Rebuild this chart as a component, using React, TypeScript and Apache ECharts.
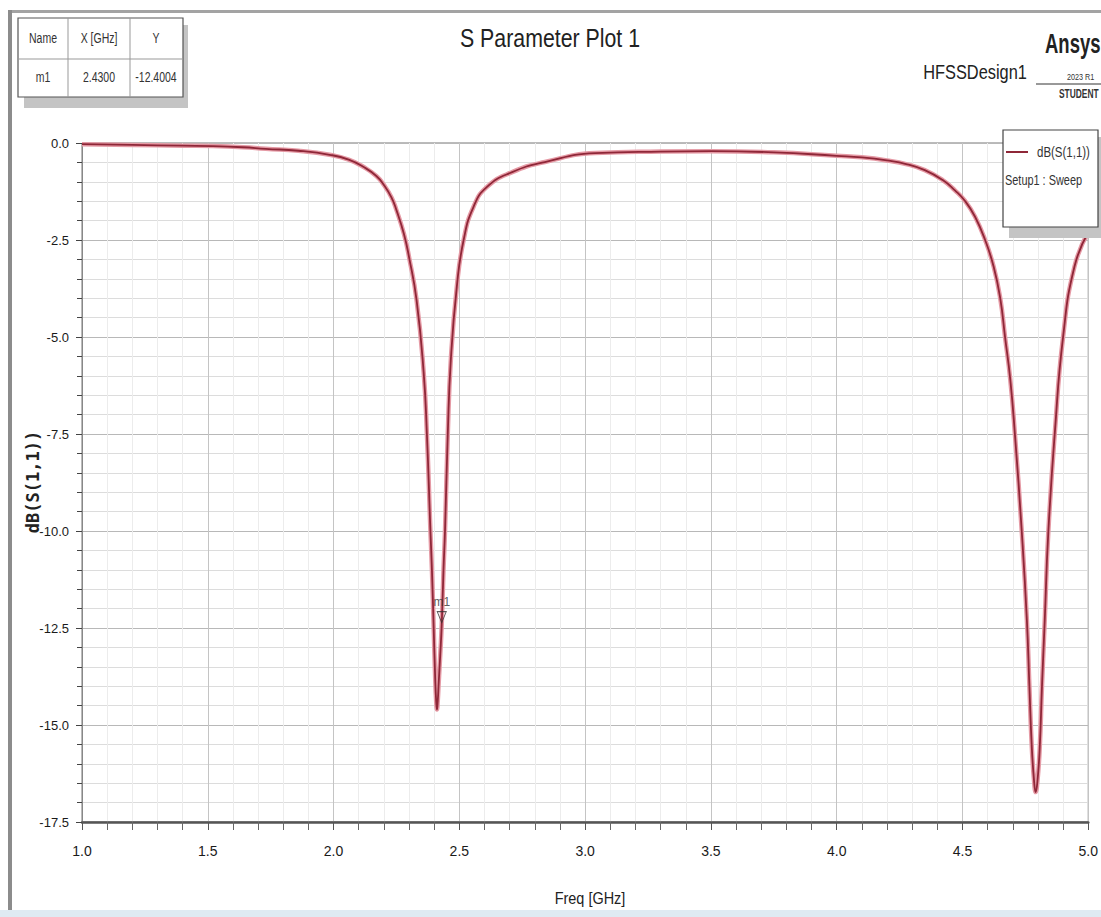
import React, { useEffect, useRef } from "react";
import * as echarts from "echarts";

// ---- data ----
const freqGHz = [
  1.0, 1.2, 1.4, 1.52, 1.64, 1.73, 1.86, 1.99, 2.06, 2.12, 2.17, 2.2, 2.23, 2.25,
  2.28, 2.3, 2.33, 2.358, 2.371, 2.385, 2.391, 2.398, 2.404, 2.408, 2.411, 2.414,
  2.418, 2.424, 2.43, 2.437, 2.443, 2.454, 2.466, 2.49, 2.517, 2.556, 2.61, 2.71,
  2.84, 3.04, 3.3, 3.5, 3.75, 4.0, 4.1, 4.2, 4.28, 4.35, 4.42, 4.47, 4.511, 4.55,
  4.59, 4.624, 4.65, 4.669, 4.69, 4.708, 4.736, 4.756, 4.766, 4.775, 4.784, 4.791,
  4.798, 4.807, 4.816, 4.827, 4.841, 4.867, 4.9, 4.945, 5.0,
];
const s11dB = [
  -0.03, -0.05, -0.07, -0.08, -0.11, -0.15, -0.2, -0.31, -0.43, -0.62, -0.85, -1.08,
  -1.4, -1.73, -2.35, -2.94, -4.05, -5.9, -7.5, -10.0, -11.0, -12.5, -13.8, -14.4,
  -14.6, -14.4, -13.9, -13.2, -12.4, -11.0, -10.0, -7.5, -5.6, -3.7, -2.5, -1.65,
  -1.13, -0.75, -0.49, -0.26, -0.22, -0.21, -0.24, -0.33, -0.37, -0.45, -0.55, -0.7,
  -0.95, -1.22, -1.5, -1.9, -2.5, -3.19, -4.0, -4.99, -6.1, -7.47, -10.05, -12.3,
  -14.0, -15.5, -16.4, -16.73, -16.45, -15.6, -14.0, -12.3, -10.05, -7.47, -4.99,
  -3.19, -2.3,
];
const markerName = "m1";
const markerFreq = 2.43;
const markerValue = -12.4004;
const tableHeader = ["Name", "X [GHz]", "Y"];
const tableRow = [markerName, markerFreq.toFixed(4), markerValue.toFixed(4)];
const titleText = "S Parameter Plot 1";
const designText = "HFSSDesign1";
const traceName = "dB(S(1,1))";
const setupName = "Setup1 : Sweep";
const xAxisName = "Freq [GHz]";
const yAxisName = "dB(S(1,1))";

const SANS = '"Liberation Sans", Arial, sans-serif';

function narrowText(
  text: string,
  x: number,
  y: number,
  size: number,
  sx: number,
  opts: any = {}
) {
  return {
    type: "text",
    x,
    y,
    scaleX: sx,
    z: opts.z ?? 12,
    style: {
      text,
      fill: opts.fill ?? "#333",
      fontSize: size,
      fontWeight: opts.bold ? "bold" : "normal",
      fontFamily: SANS,
      align: opts.align ?? "center",
      verticalAlign: "middle",
    },
  };
}

export default function App() {
  const ref = useRef<HTMLDivElement>(null);
  useEffect(() => {
    if (!ref.current) return;
    const chart = echarts.init(ref.current, undefined, { renderer: "svg" });
    const pts = freqGHz.map((f, i) => [f, s11dB[i]]);
    const colX = [43, 99, 156];
    const option: any = {
      animation: false,
      backgroundColor: "#ffffff",
      grid: {
        left: 82,
        right: 4,
        top: 143,
        bottom: 95,
        show: true,
        borderColor: "#777",
        borderWidth: 1,
        containLabel: false,
      },
      xAxis: {
        type: "value",
        min: 1,
        max: 5,
        interval: 0.5,
        axisLine: { show: true, onZero: false, lineStyle: { color: "#555", width: 2.5 } },
        axisTick: { show: true, length: 8, lineStyle: { color: "#555" } },
        minorTick: { show: true, splitNumber: 5, length: 8, lineStyle: { color: "#666" } },
        axisLabel: {
          margin: 22,
          fontSize: 14,
          fontFamily: SANS,
          color: "#1a1a1a",
          formatter: (v: number) => v.toFixed(1),
        },
        splitLine: { show: true, lineStyle: { color: "#c4c4c4", width: 1 } },
        minorSplitLine: { show: true, lineStyle: { color: "#ececec", width: 1 } },
      },
      yAxis: {
        type: "value",
        min: -17.5,
        max: 0,
        interval: 2.5,
        axisLine: { show: true, onZero: false, lineStyle: { color: "#888", width: 1 } },
        axisTick: { show: true, length: 6, lineStyle: { color: "#444" } },
        minorTick: { show: true, splitNumber: 5, length: 5, lineStyle: { color: "#444" } },
        axisLabel: {
          margin: 13,
          fontSize: 13,
          fontFamily: SANS,
          color: "#1a1a1a",
          formatter: (v: number) => v.toFixed(1),
        },
        splitLine: { show: true, lineStyle: { color: "#b8b8b8", width: 1 } },
        minorSplitLine: { show: true, lineStyle: { color: "#dcdcdc", width: 1 } },
      },
      series: [
        {
          name: traceName + " halo",
          type: "line",
          data: pts,
          showSymbol: false,
          smooth: 0.5,
          silent: true,
          lineStyle: { color: "#e59aa5", width: 4.5 },
          z: 2,
        },
        {
          name: traceName,
          type: "line",
          data: pts,
          showSymbol: false,
          smooth: 0.5,
          lineStyle: { color: "#8f2738", width: 1.8 },
          z: 3,
        },
        {
          name: markerName,
          type: "scatter",
          data: [[markerFreq, markerValue]],
          symbol: "triangle",
          symbolRotate: 180,
          symbolSize: [9, 11],
          symbolOffset: [0, -7],
          itemStyle: { color: "rgba(255,255,255,0)", borderColor: "#333", borderWidth: 1 },
          label: {
            show: true,
            formatter: markerName,
            position: "top",
            distance: 3,
            fontSize: 12,
            fontFamily: SANS,
            color: "#333",
          },
          z: 5,
        },
      ],
      graphic: [
        // outer frame
        { type: "rect", shape: { x: 8, y: 10, width: 1093, height: 3 }, style: { fill: "#a3a3a3" }, z: 10 },
        { type: "rect", shape: { x: 8, y: 10, width: 4, height: 907 }, style: { fill: "#8c8c8c" }, z: 10 },
        { type: "rect", shape: { x: 0, y: 910, width: 1101, height: 7 }, style: { fill: "#dfeaf2" }, z: 10 },
        // marker table
        { type: "rect", shape: { x: 24, y: 25, width: 164, height: 83 }, style: { fill: "#c4c4c4" }, z: 10 },
        { type: "rect", shape: { x: 18, y: 18, width: 165, height: 79 }, style: { fill: "#fff", stroke: "#555", lineWidth: 1.2 }, z: 11 },
        { type: "line", shape: { x1: 68, y1: 18, x2: 68, y2: 97 }, style: { stroke: "#999", lineWidth: 1 }, z: 12 },
        { type: "line", shape: { x1: 130, y1: 18, x2: 130, y2: 97 }, style: { stroke: "#999", lineWidth: 1 }, z: 12 },
        { type: "line", shape: { x1: 18, y1: 59, x2: 183, y2: 59 }, style: { stroke: "#999", lineWidth: 1 }, z: 12 },
        ...tableHeader.map((t, i) => narrowText(t, colX[i], 38, 14, 0.75)),
        ...tableRow.map((t, i) => narrowText(t, colX[i], 77, 14, 0.75)),
        // title
        narrowText(titleText, 550, 38, 26, 0.82, { fill: "#222" }),
        // design name + logo
        narrowText(designText, 975, 72, 21, 0.78, { fill: "#222" }),
        narrowText("Ansys", 1045, 44, 28, 0.66, { fill: "#222", bold: true, align: "left" }),
        narrowText("2023 R1", 1067, 77, 9, 0.8, { align: "left" }),
        { type: "line", shape: { x1: 1036, y1: 84, x2: 1101, y2: 84 }, style: { stroke: "#333", lineWidth: 1 }, z: 12 },
        narrowText("STUDENT", 1059, 94, 12, 0.7, { bold: true, align: "left" }),
        // legend box
        { type: "rect", shape: { x: 1009, y: 137, width: 92, height: 101 }, style: { fill: "#c4c4c4" }, z: 20 },
        { type: "rect", shape: { x: 1003, y: 130, width: 95, height: 97 }, style: { fill: "#fff", stroke: "#444", lineWidth: 1.2 }, z: 21 },
        { type: "line", shape: { x1: 1006, y1: 152, x2: 1028, y2: 152 }, style: { stroke: "#8f2738", lineWidth: 2 }, z: 22 },
        narrowText(traceName, 1037, 152, 14, 0.82, { align: "left", z: 22 }),
        narrowText(setupName, 1005, 181, 14, 0.78, { align: "left", z: 22 }),
        // axis names
        {
          type: "text",
          x: 33,
          y: 482,
          rotation: Math.PI / 2,
          z: 12,
          style: {
            text: yAxisName,
            fill: "#222",
            fontSize: 17,
            fontWeight: "bold",
            fontFamily: '"DejaVu Sans Mono", "Liberation Mono", monospace',
            align: "center",
            verticalAlign: "middle",
          },
        },
        narrowText(xAxisName, 590, 898, 17, 0.85, { fill: "#222" }),
      ],
    };
    chart.setOption(option);
    return () => chart.dispose();
  }, []);
  return (
    <div
      ref={ref}
      style={{ position: "absolute", left: 0, top: 0, width: 1101, height: 917, background: "#fff" }}
    />
  );
}
